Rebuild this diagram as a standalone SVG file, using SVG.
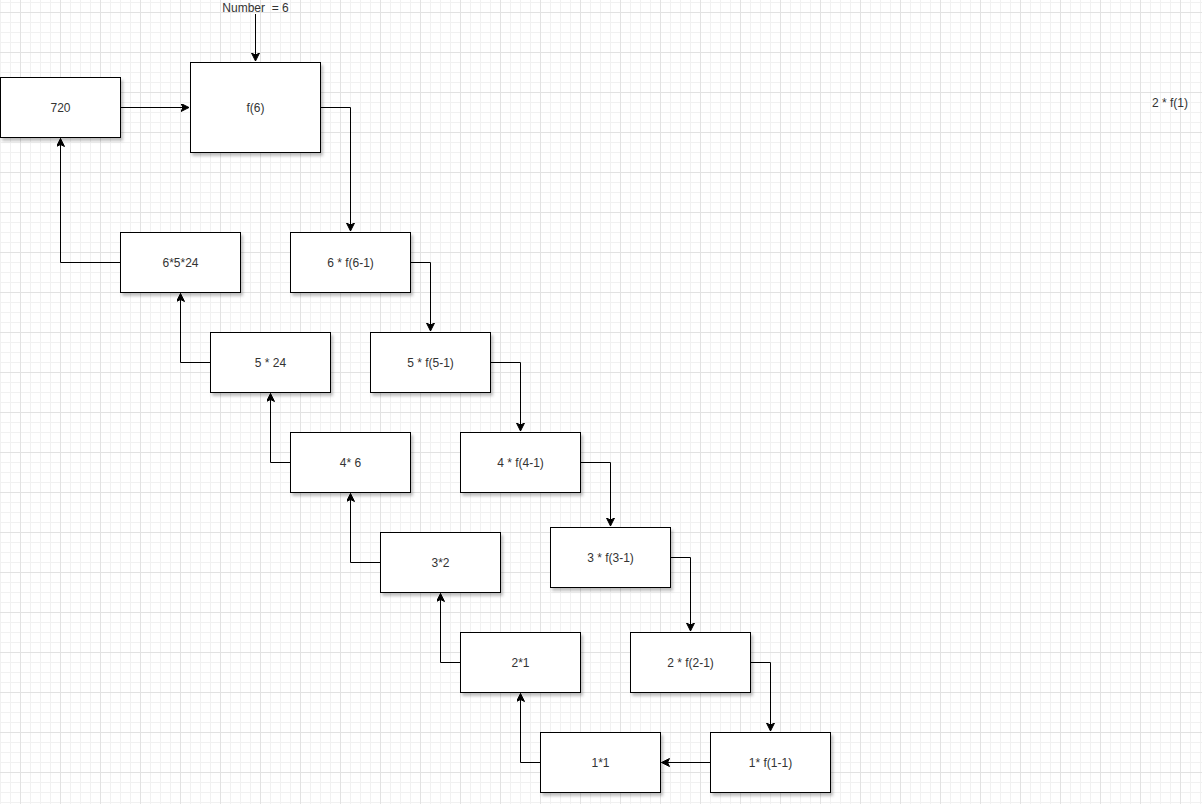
<svg xmlns="http://www.w3.org/2000/svg" width="1202" height="804" viewBox="0 0 1202 804">
<style>
.box{fill:#ffffff;stroke:#000000;stroke-width:1;filter:url(#shadow)}
.lbl{font-family:"Liberation Sans",Arial,sans-serif;font-size:12px;fill:#333333;text-anchor:middle;dominant-baseline:central;white-space:pre}
.edge{fill:none;stroke:#000000;stroke-width:1;marker-end:url(#arr)}
</style>
<defs>
<pattern id="grid" x="0" y="2" width="40" height="40" patternUnits="userSpaceOnUse">
<path d="M0.5,0V40M10.5,0V40M30.5,0V40M0,0.5H40M0,20.5H40M0,30.5H40" stroke="#f1f1f1" stroke-width="1" fill="none"/>
<path d="M20.5,0V40M0,10.5H40" stroke="#e2e2e2" stroke-width="1" fill="none"/>
</pattern>
<filter id="shadow" x="-10%" y="-10%" width="130%" height="140%">
<feDropShadow dx="2" dy="3" stdDeviation="1.5" flood-color="#000000" flood-opacity="0.25"/>
</filter>
<marker id="arr" markerWidth="10" markerHeight="10" refX="8" refY="4" orient="auto" markerUnits="userSpaceOnUse">
<path d="M0,0 L8,4 L0,8 L2,4 Z" fill="#000000" stroke="#000000" stroke-width="1"/>
</marker>
</defs>
<rect width="1202" height="804" fill="#ffffff"/>
<rect width="1202" height="804" fill="url(#grid)"/>

<g id="connectors">
<path class="edge" d="M255.5,14V61"/>
<path class="edge" d="M120.5,107.5H189"/>
<path class="edge" d="M320.5,107.5H350.5V231"/>
<path class="edge" d="M410.5,262.5H430.5V331"/>
<path class="edge" d="M490.5,362.5H520.5V431"/>
<path class="edge" d="M580.5,462.5H610.5V526"/>
<path class="edge" d="M670.5,557.5H690.5V631"/>
<path class="edge" d="M750.5,662.5H770.5V731"/>
<path class="edge" d="M710.5,762.5H661.5"/>
<path class="edge" d="M540.5,762.5H520.5V693.5"/>
<path class="edge" d="M460.5,662.5H440.5V593.5"/>
<path class="edge" d="M380.5,562.5H350.5V493.5"/>
<path class="edge" d="M290.5,462.5H270.5V393.5"/>
<path class="edge" d="M210.5,362.5H180.5V293.5"/>
<path class="edge" d="M120.5,262.5H60.5V138.5"/>
</g>

<g id="number"><text class="lbl" x="255.5" y="7.5">Number  = 6</text></g>
<g id="n720"><rect class="box" x="0.5" y="77.5" width="120" height="60"/><text class="lbl" x="60.5" y="107.5">720</text></g>
<g id="f6"><rect class="box" x="190.5" y="62.5" width="130" height="90"/><text class="lbl" x="255.5" y="107.5">f(6)</text></g>
<g id="n6524"><rect class="box" x="120.5" y="232.5" width="120" height="60"/><text class="lbl" x="180.5" y="262.5">6*5*24</text></g>
<g id="n6f"><rect class="box" x="290.5" y="232.5" width="120" height="60"/><text class="lbl" x="350.5" y="262.5">6 * f(6-1)</text></g>
<g id="n524"><rect class="box" x="210.5" y="332.5" width="120" height="60"/><text class="lbl" x="270.5" y="362.5">5 * 24</text></g>
<g id="n5f"><rect class="box" x="370.5" y="332.5" width="120" height="60"/><text class="lbl" x="430.5" y="362.5">5 * f(5-1)</text></g>
<g id="n46"><rect class="box" x="290.5" y="432.5" width="120" height="60"/><text class="lbl" x="350.5" y="462.5">4* 6</text></g>
<g id="n4f"><rect class="box" x="460.5" y="432.5" width="120" height="60"/><text class="lbl" x="520.5" y="462.5">4 * f(4-1)</text></g>
<g id="n32"><rect class="box" x="380.5" y="532.5" width="120" height="60"/><text class="lbl" x="440.5" y="562.5">3*2</text></g>
<g id="n3f"><rect class="box" x="550.5" y="527.5" width="120" height="60"/><text class="lbl" x="610.5" y="557.5">3 * f(3-1)</text></g>
<g id="n21"><rect class="box" x="460.5" y="632.5" width="120" height="60"/><text class="lbl" x="520.5" y="662.5">2*1</text></g>
<g id="n2f"><rect class="box" x="630.5" y="632.5" width="120" height="60"/><text class="lbl" x="690.5" y="662.5">2 * f(2-1)</text></g>
<g id="n11"><rect class="box" x="540.5" y="732.5" width="120" height="60"/><text class="lbl" x="600.5" y="762.5">1*1</text></g>
<g id="n1f"><rect class="box" x="710.5" y="732.5" width="120" height="60"/><text class="lbl" x="770.5" y="762.5">1* f(1-1)</text></g>
<g id="note"><text class="lbl" x="1170" y="102.5">2 * f(1)</text></g>
</svg>
